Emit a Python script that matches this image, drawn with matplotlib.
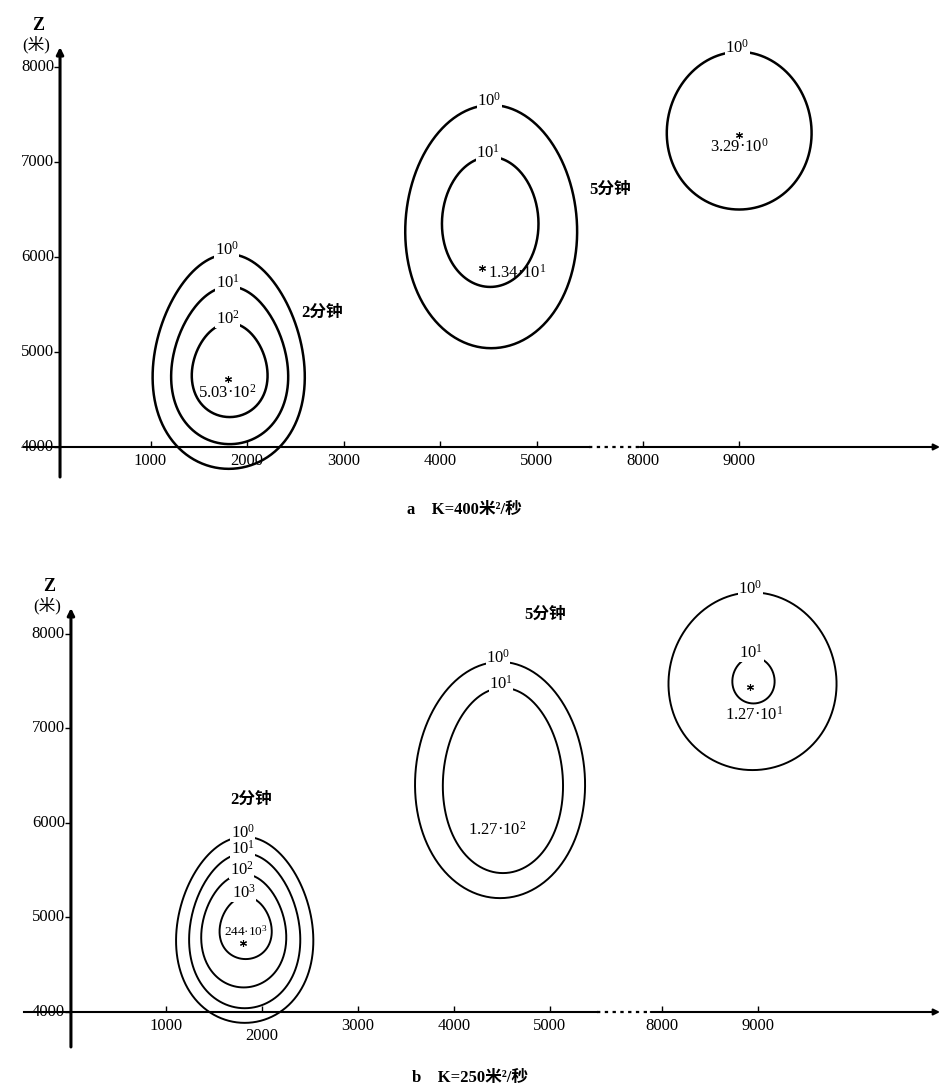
import numpy as np
import matplotlib.pyplot as plt
from matplotlib.transforms import offset_copy

plt.rcParams['font.family'] = ['Liberation Serif', 'Noto Sans CJK SC', 'DejaVu Serif']
plt.rcParams['mathtext.fontset'] = 'custom'
plt.rcParams['mathtext.rm'] = 'Liberation Serif'
plt.rcParams['mathtext.it'] = 'Liberation Serif'

x_ticks = [1000, 2000, 3000, 4000, 5000, 8000, 9000]
z_ticks = [4000, 5000, 6000, 7000, 8000]

# panel a, K=400: isolines (centre x, centre z, half width, half height, egg factor, level)
a_cx = [1810, 1820, 1820, 4530, 4520, 9000]
a_cz = [4900, 4860, 4810, 6320, 6370, 7330]
a_hw = [780, 600, 390, 890, 500, 750]
a_hh = [1130, 830, 495, 1280, 685, 830]
a_egg = [0.15, 0.15, 0.12, 0.04, 0.03, 0.03]
a_lev = [0, 1, 2, 0, 1, 0]
a_peak_x = [1800, 4440, 9000]
a_peak_z = [4720, 5885, 7285]
a_peak_txt = ['5.03·$10^2$', '1.34·$10^1$', '3.29·$10^0$']
a_time_txt = ['2分钟', '5分钟']

# panel b, K=250
b_cx = [1820, 1820, 1810, 1830, 4480, 4510, 8940, 8950]
b_cz = [4870, 4860, 4860, 4890, 6455, 6450, 7500, 7510]
b_hw = [710, 575, 440, 270, 885, 625, 875, 220]
b_hh = [985, 820, 600, 330, 1250, 980, 940, 245]
b_egg = [0.12, 0.12, 0.12, 0.12, 0.04, 0.06, 0.03, 0.05]
b_lev = [0, 1, 2, 3, 0, 1, 0, 1]
b_peak_x = [1800, None, 8910]
b_peak_z = [4730, None, 7440]
b_peak_txt = ['244·$10^3$', '1.27·$10^2$', '1.27·$10^1$']
b_time_txt = ['2分钟', '5分钟']

fig = plt.figure(figsize=(9.4, 10.91), dpi=100)


def egg(cx, cz, hw, hh, e):
    # start at the top so the seam hides under the level label
    t = np.linspace(np.pi / 2, np.pi / 2 + 2 * np.pi, 241)
    return cx + hw * np.cos(t) * (1 - e * np.sin(t)), cz + hh * np.sin(t)


def draw_panel(ax, cx, cz, hw, hh, eg, lev, px, pz, ptxt, ttxt, tpos, txtpos,
               gap, axis_x, lw, brk, caption, cap_pos, lab_size, drop2000):
    ax.set_axis_off()
    shift = lambda x: x - gap if x > 6000 else x
    # isolines
    for i in range(len(cx)):
        x, z = egg(shift(cx[i]), cz[i], hw[i], hh[i], eg[i])
        ax.plot(x, z, color='black', lw=lw, solid_capstyle='butt')
        ax.text(shift(cx[i]), cz[i] + hh[i], f'$10^{{{lev[i]}}}$',
                transform=offset_copy(ax.transData, fig, x=-2, y=4, units='dots'),
                ha='center', va='center', fontsize=lab_size,
                bbox=dict(facecolor='white', edgecolor='none', pad=0.3))
    # peaks
    for i in range(len(ptxt)):
        if px[i] is not None:
            ax.plot(shift(px[i]), pz[i], marker=(6, 2, 0), ms=5, color='black', mew=0.8)
        ax.text(txtpos[i][0], txtpos[i][1], ptxt[i], ha='center', va='center',
                fontsize=txtpos[i][2], color='black')
    for t, p in zip(ttxt, tpos):
        ax.text(p[0], p[1], t, ha='center', va='center', fontsize=12, fontweight='bold')

    # axes drawn by hand
    x0, x1 = ax.get_xlim()
    ax.plot([x0 + 250, brk[0]], [4000, 4000], color='black', lw=1.5)
    ax.plot([brk[0], brk[1]], [4000, 4000], color='black', lw=1.6, ls=(0, (1.5, 2)))
    ax.annotate('', xy=(x1, 4000), xytext=(brk[1], 4000),
                arrowprops=dict(arrowstyle='-|>', color='black', lw=1.5,
                                mutation_scale=9, shrinkA=0, shrinkB=0))
    ax.annotate('', xy=(axis_x, axis_top), xytext=(axis_x, axis_bot),
                arrowprops=dict(arrowstyle='-|>', color='black', lw=2.2,
                                mutation_scale=10, shrinkA=0, shrinkB=0))
    tick_pos = [shift(v) for v in x_ticks]
    ax.plot(tick_pos, [4000] * len(tick_pos), ls='none', marker=2, ms=4,
            color='black', mew=1)
    ax.plot([axis_x] * len(z_ticks), z_ticks, ls='none', marker=0, ms=4,
            color='black', mew=1)
    for v, p in zip(x_ticks, tick_pos):
        dy = -24 if (v == 2000 and drop2000) else -14
        ax.text(p, 4000, str(v),
                transform=offset_copy(ax.transData, fig, x=0, y=dy, units='dots'),
                ha='center', va='center', fontsize=12)
    left = offset_copy(ax.transData, fig, x=-6, y=0, units='dots')
    for v in z_ticks:
        ax.text(axis_x, v, str(v), transform=left, ha='right', va='center',
                fontsize=12)
    ax.text(axis_x, axis_top, 'Z', transform=offset_copy(ax.transData, fig, x=-22, y=22, units='dots'),
            ha='center', va='center', fontsize=13, fontweight='bold')
    ax.text(axis_x, axis_top, '(米)', transform=offset_copy(ax.transData, fig, x=-24, y=2, units='dots'),
            ha='center', va='center', fontsize=12)
    ax.text(cap_pos[0], cap_pos[1], caption, ha='left', va='center', fontsize=12,
            fontweight='bold')


# panel a
ax1 = fig.add_axes([0, 1 - 500 / 1091, 1, 480 / 1091])
ax1.set_xlim(-560, 9181)
ax1.set_ylim(3442, 8495)
axis_top, axis_bot = 8210, 3684
draw_panel(ax1, a_cx, a_cz, a_hw, a_hh, a_egg, a_lev, a_peak_x, a_peak_z, a_peak_txt,
           a_time_txt, [(2777, 5410), (5762, 6705)],
           [(1800, 4570, 12), (4800, 5832, 12), (7100, 7160, 12)],
           1900, 62, 1.8, (5540, 6070), 'a    K=400米²/秒', (3660, 3335), 12, False)

# panel b
ax2 = fig.add_axes([0, 0, 1, 531 / 1091])
ax2.set_xlim(-729, 9063)
ax2.set_ylim(3164, 8783)
axis_top, axis_bot = 8275, 3630
draw_panel(ax2, b_cx, b_cz, b_hw, b_hh, b_egg, b_lev, b_peak_x, b_peak_z, b_peak_txt,
           b_time_txt, [(1885, 6243), (4948, 8201)],
           [(1830, 4850, 9.5), (4450, 5925, 12), (7125, 7145, 12)],
           1830, 10, 1.4, (5490, 6050), 'b    K=250米²/秒', (3560, 3300), 12, True)

fig.savefig('out.png', dpi=100)
